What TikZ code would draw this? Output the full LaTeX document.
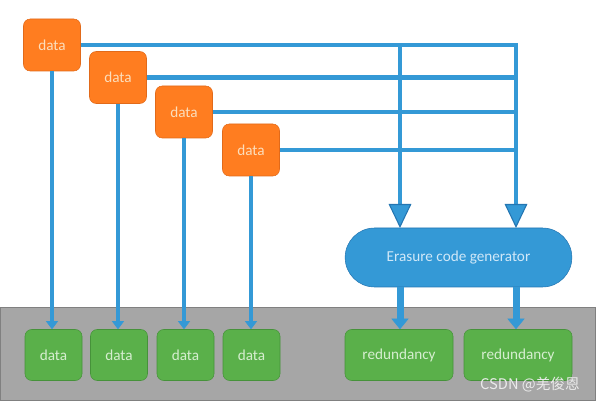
\documentclass[tikz,border=0pt]{standalone}
\usepackage{fontspec}
\setmainfont{Carlito}
\newfontfamily\cjkfont{Noto Sans CJK SC}
\usetikzlibrary{arrows.meta}

\definecolor{orangebox}{RGB}{255,125,32}
\definecolor{orangeedge}{RGB}{225,106,26}
\definecolor{orangetext}{RGB}{252,222,188}
\definecolor{greenbox}{RGB}{90,176,74}
\definecolor{greenedge}{RGB}{70,146,58}
\definecolor{greentext}{RGB}{214,238,208}
\definecolor{pipeblue}{RGB}{52,153,214}
\definecolor{pipeedge}{RGB}{36,118,178}
\definecolor{gentext}{RGB}{208,232,248}
\definecolor{bandgrey}{RGB}{166,166,166}
\definecolor{bandedge}{RGB}{128,128,128}

\tikzset{
    every node/.style={font=\fontsize{11.4}{13}\selectfont},
    databox/.style={draw=orangeedge, fill=orangebox, text=orangetext, rounded corners=5pt, minimum width=42.75pt, minimum height=39pt},
    storebox/.style={draw=greenedge, fill=greenbox, text=greentext, rounded corners=5pt, minimum height=38.25pt},
    genbox/.style={draw=pipeedge, fill=pipeblue, text=gentext, rounded corners=22pt, minimum width=170pt, minimum height=44.25pt},
    pipe/.style={draw=pipeblue, line width=3.5pt},
    thinpipe/.style={pipe, -{Triangle[width=9pt,length=6pt,line width=0.5pt]}},
    bigpipe/.style={pipe, -{Triangle[width=17pt,length=18pt,line width=0.8pt,color=pipeedge,fill=pipeblue]}},
    outpipe/.style={draw=pipeblue, line width=5.25pt, -{Triangle[width=13pt,length=8pt,line width=0.5pt]}}
}

\begin{document}
\begin{tikzpicture}[x=0.75pt, y=-0.75pt]

    \useasboundingbox (0,0) rectangle (597,402);

    % grey storage band
    \fill[bandgrey, draw=bandedge] (0.5,307) rectangle (595,400);

    % data blocks, staircase
    \node[databox] (d1) at (52,45) {data};
    \node[databox] (d2) at (118,77.5) {data};
    \node[databox] (d3) at (184,112) {data};
    \node[databox] (d4) at (251,150) {data};

    % stored blocks
    \node[storebox, minimum width=42.75pt] (g1) at (53.5,355) {data};
    \node[storebox, minimum width=42.75pt] (g2) at (119,355) {data};
    \node[storebox, minimum width=42.75pt] (g3) at (185.5,355) {data};
    \node[storebox, minimum width=42.75pt] (g4) at (251.5,355) {data};
    \node[storebox, minimum width=81pt] (r1) at (399,355) {redundancy};
    \node[storebox, minimum width=81pt] (r2) at (518,355) {redundancy};

    % generator
    \node[genbox] (gen) at (458.5,257.5) {Erasure code generator};
    \coordinate (in1) at (400,228);
    \coordinate (in2) at (516,228);

    % data straight down
    \draw[thinpipe] (d1.south) -- (d1.south |- g1.north);
    \draw[thinpipe] (d2.south) -- (d2.south |- g2.north);
    \draw[thinpipe] (d3.south) -- (d3.south |- g3.north);
    \draw[thinpipe] (d4.south) -- (d4.south |- g4.north);

    % data bus to the generator
    \draw[pipe] (d2.east) -- (d2.east -| in2);
    \draw[pipe] (d3.east) -- (d3.east -| in2);
    \draw[pipe] (d4.east) -- (d4.east -| in2);
    \draw[bigpipe] (d1.east) -| (in2);
    \draw[bigpipe] (d1.east -| in1) -- (in1);

    % redundancy out
    \draw[outpipe] (in1 |- gen.south) -- (in1 |- r1.north);
    \draw[outpipe] (in2 |- gen.south) -- (in2 |- r2.north);

    % watermark
    \node[text=white!92!black, font=\cjkfont\fontsize{11}{13}\selectfont] (mark) at (530,385) {CSDN @羌俊恩};

\end{tikzpicture}
\end{document}
